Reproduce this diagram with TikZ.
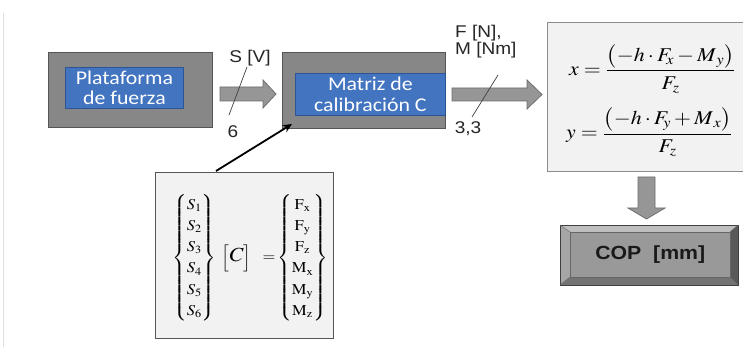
\documentclass[tikz,border=0pt]{standalone}
\usepackage{amsmath}
\usepackage{mathptmx}
\usepackage[no-math]{fontspec}
\usepackage{graphicx}
\setmainfont[FakeStretch=1.12]{Liberation Sans}
\newfontfamily\calib[FakeStretch=1.12]{Carlito}
\usetikzlibrary{calc,arrows.meta}
\definecolor{boxgray}{RGB}{135,135,135}
\definecolor{boxedge}{RGB}{85,85,85}
\definecolor{fblue}{RGB}{66,116,192}
\definecolor{fblueedge}{RGB}{45,85,150}
\definecolor{arrgray}{RGB}{150,150,150}
\definecolor{arredge}{RGB}{110,110,110}
\definecolor{paper}{RGB}{242,242,242}
\tikzset{
  graybox/.style={draw=boxedge, fill=boxgray, line width=1pt, inner sep=0pt, anchor=north west},
  bluebox/.style={draw=fblueedge, fill=fblue, line width=0.8pt, inner sep=0pt, anchor=north west,
    text=white, align=center, font=\calib\fontsize{19.5}{20.5}\selectfont},
  paperbox/.style={draw=boxedge, fill=paper, line width=1pt, inner sep=0pt, anchor=north west},
  blockarrow/.style={draw=arredge, fill=arrgray, line width=0.8pt},
  slash/.style={draw=black!75, line width=0.7pt},
  lbl/.style={font=\fontsize{17}{19}\selectfont, text=black!85, inner sep=0pt, align=left}
}
\begin{document}
\begin{tikzpicture}[x=1pt,y=-1pt]
\useasboundingbox (0,0) rectangle (743,347);
\fill[white] (0,0) rectangle (743,347);
\draw[black!12, line width=0.8pt] (3,13) -- (3,347);

% boxes
\node[graybox, minimum width=164pt, minimum height=75pt] (b1) at (48,52) {};
\node[bluebox, minimum width=118pt, minimum height=41pt] (p1) at (65,67) {Plataforma\\de fuerza};
\node[graybox, minimum width=163pt, minimum height=76pt] (b2) at (282,52) {};
\node[bluebox, minimum width=150pt, minimum height=42pt] (p2) at (295,73) {Matriz de\\calibración C};
\node[paperbox, draw=black!45, minimum width=200pt, minimum height=149pt] (fb) at (547,22) {};
\node[paperbox, minimum width=178pt, minimum height=166pt] (mb) at (155,172) {};

% block arrows
\draw[blockarrow] (220,87) -- (263,87) -- (263,80) -- (276,94) -- (263,108) -- (263,101) -- (220,101) -- cycle;
\draw[blockarrow] (452,88) -- (527,88) -- (527,80) -- (542,94.5) -- (527,109) -- (527,101) -- (452,101) -- cycle;
\draw[blockarrow] (638,177) -- (655,177) -- (655,208) -- (665,208) -- (646.5,219) -- (628,208) -- (638,208) -- cycle;

% slashes and labels
\draw[slash] (247,67) -- (229,115);
\draw[slash] (498,75) -- (472,117);
\node[lbl] (sv) at (250,58) {S [V]};
\node[lbl] (six) at (233,132) {6};
\node[lbl, anchor=west] (fn) at (455,33) {F [N],};
\node[lbl, anchor=west] (mn) at (455,50) {M [Nm]};
\node[lbl] (tt) at (468,129) {3,3};

% formulas
\node[anchor=west, inner sep=0pt] (fx) at (569,69) {\scalebox{1.12}[1]{\fontsize{19.5}{22}\selectfont$x=\dfrac{\bigl(-h\cdot F_{\!x}-M_{\,y}\bigr)}{F_z}$}};
\node[anchor=west, inner sep=0pt] (fy) at (566,132) {\scalebox{1.12}[1]{\fontsize{19.5}{22}\selectfont$y=\dfrac{\bigl(-h\cdot F_{\!y}+M_{\,x}\bigr)}{F_z}$}};

% matrix equation
\node[inner sep=0pt] (eq) at (250,258) {\scalebox{1.1}[1]{\fontsize{15}{17}\selectfont\renewcommand\arraystretch{1.25}%
$\left\{\begin{matrix}S_1\\S_2\\S_3\\S_4\\S_5\\S_6\end{matrix}\right\}
\;\Bigl[\mbox{\fontsize{20}{22}\selectfont$C$}\Bigr]\;\;=\!\left\{\begin{matrix}\mathrm{F_x}\\\mathrm{F_y}\\\mathrm{F_z}\\\mathrm{M_x}\\\mathrm{M_y}\\\mathrm{M_z}\end{matrix}\right\}$}};

% connector from matrix box to calibration box
\coordinate (tip) at ($(b2.south west)+(10,-5)$);
\coordinate (tail) at ($(mb.north west)+(61,-1)$);
\draw[black, line width=1.8pt, -{Stealth[length=9pt,width=8pt]}] (tail) -- (tip);

% COP bevel box
\fill[black!25] (560,225) -- (738,225) -- (730,232) -- (570,232) -- cycle;
\fill[black!35] (560,225) -- (570,232) -- (570,277) -- (560,285) -- cycle;
\fill[black!65] (738,225) -- (738,285) -- (730,277) -- (730,232) -- cycle;
\fill[black!55] (560,285) -- (738,285) -- (730,277) -- (570,277) -- cycle;
\node[draw=black!60, fill=black!40, line width=0.5pt, minimum width=160pt, minimum height=45pt, inner sep=0pt, anchor=north west,
  font=\bfseries\fontsize{19}{21}\selectfont, text=black!90] (cop) at (570,232) {COP\ \ [mm]};
\draw[black!75, line width=0.8pt] (560,225) rectangle (738,285);
\draw[black!60, line width=0.4pt] (560,225) -- (570,232) (738,225) -- (730,232) (560,285) -- (570,277) (738,285) -- (730,277);
\end{tikzpicture}
\end{document}
